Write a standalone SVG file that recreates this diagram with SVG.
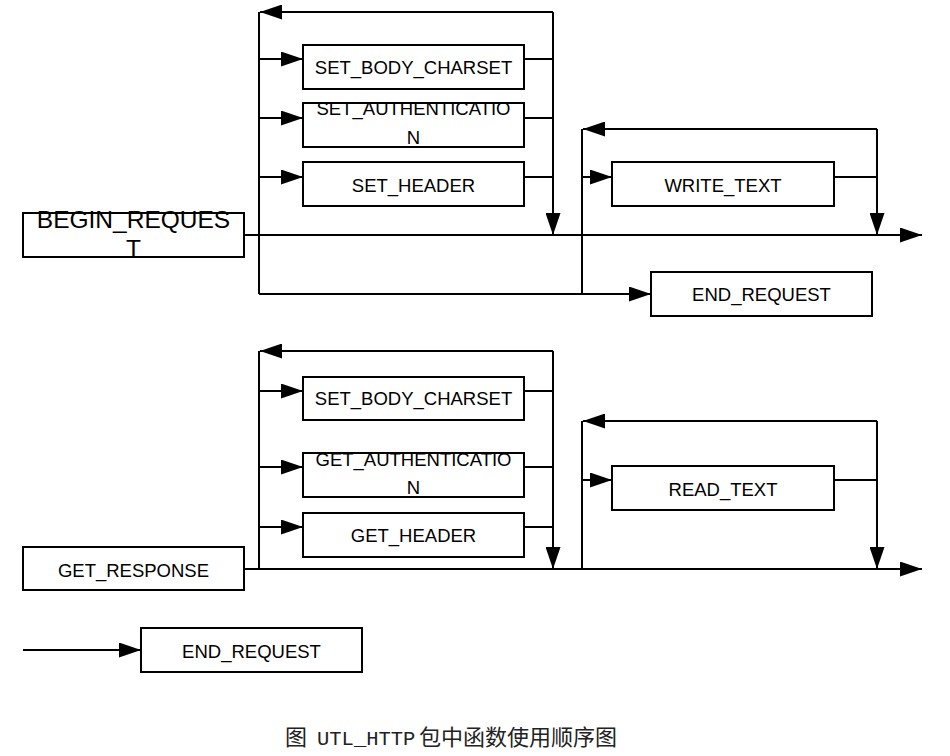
<svg xmlns="http://www.w3.org/2000/svg" width="950" height="756" viewBox="0 0 950 756">
<style>
.box{fill:#fff;stroke:#000;stroke-width:2}
.t{font-family:"Liberation Sans",Arial,sans-serif;font-size:18.5px;fill:#000;text-anchor:middle}
.big{font-size:24.5px}
.ln{fill:none;stroke:#000;stroke-width:2}
.a{marker-end:url(#arr)}
.cap{font-family:"Noto Sans CJK SC",sans-serif;font-size:22px;fill:#222}
.mono{font-family:"Liberation Mono",monospace;font-size:20.5px}
</style>
<defs>
<marker id="arr" markerUnits="userSpaceOnUse" markerWidth="22" markerHeight="15" refX="22" refY="7.5" orient="auto">
<path d="M0,0 L22,7.5 L0,15 z" fill="#000"/>
</marker>
<clipPath id="c1"><rect x="303" y="103" width="221" height="44"/></clipPath>
<clipPath id="c2"><rect x="303" y="453" width="221" height="44"/></clipPath>
</defs>
<g id="connectors">
<path class="ln a" d="M244,235 L922,235"/>
<path class="ln" d="M259,12 L259,294"/>
<path class="ln a" d="M553,12 L553,235"/>
<path class="ln a" d="M553,12 L260,12"/>
<path class="ln a" d="M259,59 L303,59"/>
<path class="ln a" d="M259,118 L303,118"/>
<path class="ln a" d="M259,177 L303,177"/>
<path class="ln" d="M524,59 L553,59 M524,118 L553,118 M524,177 L553,177"/>
<path class="ln a" d="M259,294 L651,294"/>
<path class="ln" d="M582,129 L582,294"/>
<path class="ln a" d="M877,129 L877,235"/>
<path class="ln a" d="M877,129 L583,129"/>
<path class="ln a" d="M582,177 L612,177"/>
<path class="ln" d="M834,177 L877,177"/>
<path class="ln a" d="M244,569 L922,569"/>
<path class="ln" d="M259,351 L259,569"/>
<path class="ln a" d="M553,351 L553,569"/>
<path class="ln a" d="M553,351 L260,351"/>
<path class="ln a" d="M259,391 L303,391"/>
<path class="ln a" d="M259,467 L303,467"/>
<path class="ln a" d="M259,527 L303,527"/>
<path class="ln" d="M524,391 L553,391 M524,467 L553,467 M524,527 L553,527"/>
<path class="ln" d="M582,421 L582,569"/>
<path class="ln a" d="M877,421 L877,569"/>
<path class="ln a" d="M877,421 L583,421"/>
<path class="ln a" d="M582,480 L612,480"/>
<path class="ln" d="M834,480 L877,480"/>
<path class="ln a" d="M23,650 L141,650"/>
</g>
<g id="begin_request">
<rect class="box" x="23" y="213" width="221" height="44"/>
<text class="t big" x="133.5" y="228">BEGIN_REQUES</text>
<text class="t big" x="133.5" y="257">T</text>
</g>
<g id="set_body_charset_1">
<rect class="box" x="303" y="45" width="221" height="44"/>
<text class="t" x="413.5" y="74">SET_BODY_CHARSET</text>
</g>
<g id="set_authentication">
<rect class="box" x="303" y="103" width="221" height="44"/>
<g clip-path="url(#c1)">
<text class="t" x="413.5" y="115">SET_AUTHENTICATIO</text>
<text class="t" x="413.5" y="144">N</text>
</g>
</g>
<g id="set_header">
<rect class="box" x="303" y="162" width="221" height="44"/>
<text class="t" x="413.5" y="191.5">SET_HEADER</text>
</g>
<g id="write_text">
<rect class="box" x="612" y="162" width="222" height="44"/>
<text class="t" x="723" y="191.5">WRITE_TEXT</text>
</g>
<g id="end_request_1">
<rect class="box" x="651" y="272" width="221" height="44"/>
<text class="t" x="761.5" y="301">END_REQUEST</text>
</g>
<g id="get_response">
<rect class="box" x="23" y="547" width="221" height="43"/>
<text class="t" x="133.5" y="577">GET_RESPONSE</text>
</g>
<g id="set_body_charset_2">
<rect class="box" x="303" y="377" width="221" height="43"/>
<text class="t" x="413.5" y="405">SET_BODY_CHARSET</text>
</g>
<g id="get_authentication">
<rect class="box" x="303" y="453" width="221" height="44"/>
<g clip-path="url(#c2)">
<text class="t" x="413.5" y="466">GET_AUTHENTICATIO</text>
<text class="t" x="413.5" y="494">N</text>
</g>
</g>
<g id="get_header">
<rect class="box" x="303" y="513" width="221" height="44"/>
<text class="t" x="413.5" y="542">GET_HEADER</text>
</g>
<g id="read_text">
<rect class="box" x="612" y="466" width="222" height="44"/>
<text class="t" x="723" y="495.5">READ_TEXT</text>
</g>
<g id="end_request_2">
<rect class="box" x="141" y="628" width="221" height="44"/>
<text class="t" x="251.5" y="658">END_REQUEST</text>
</g>
<g id="caption">
<text class="cap" x="285" y="745">图 <tspan class="mono" x="317">UTL_HTTP</tspan><tspan x="419">包中函数使用顺序图</tspan></text>
</g>
</svg>
